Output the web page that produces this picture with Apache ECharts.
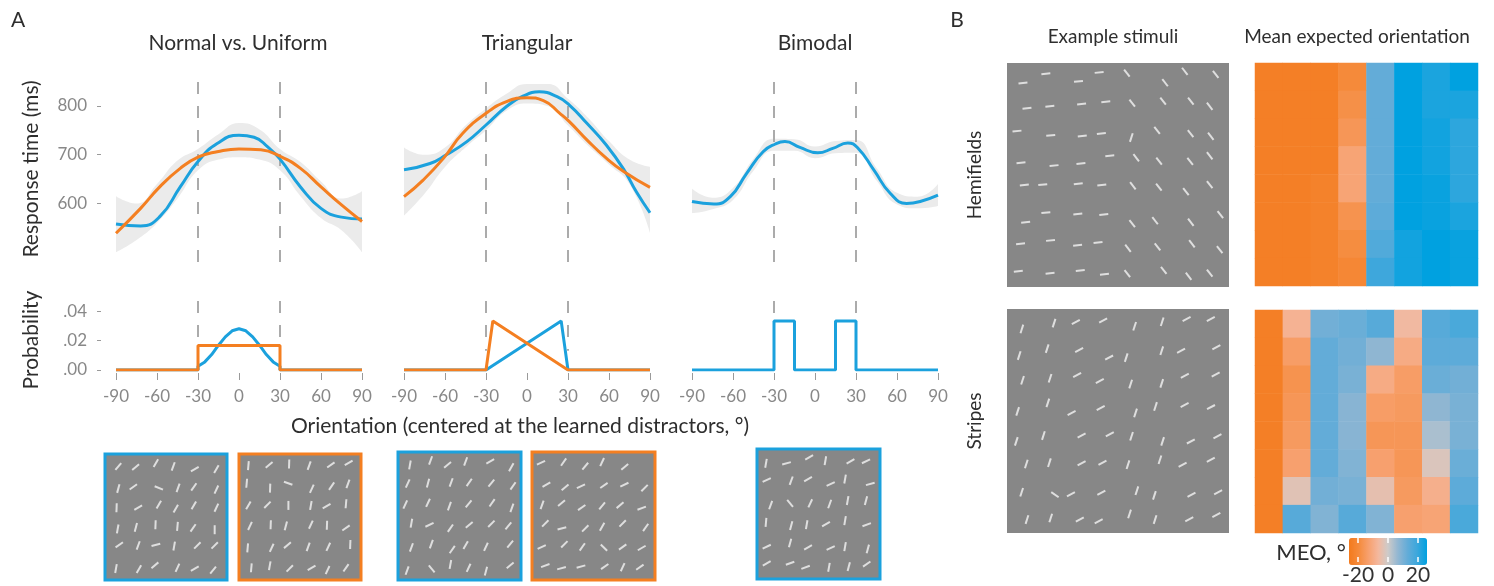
<!DOCTYPE html>
<html>
<head>
<meta charset="utf-8">
<title>Response time and mean expected orientation</title>
<script src="https://cdn.jsdelivr.net/npm/echarts@6.0.0/dist/echarts.min.js"></script>
<style>
  html, body { margin: 0; padding: 0; background: #fff; }
  #view { width: 1494px; height: 586px; }
</style>
</head>
<body>
<div id="view"></div>
<script>
  // ---- A: response time (ms) vs orientation (deg) ----
  var normalBlue = [[-90,558],[-72,554],[-58,573],[-43,634],[-30,686],[-16,723],[0,740],[11,736],[21,716],[30,691],[45,634],[60,590],[75,572],[90,568]];
  var normalOrange = [[-90,539],[-72,590],[-58,634],[-43,672],[-30,695],[-16,706],[0,712],[16,710],[30,697],[45,672],[60,634],[75,597],[90,563]];
  var triBlue = [[-90,669],[-71,682],[-59,700],[-44,727],[-30,761],[-15,799],[-3,820],[9,829],[22,819],[31,802],[44,764],[58,720],[71,669],[80,624],[90,581]];
  var triOrange = [[-90,614],[-76,648],[-61,693],[-47,744],[-30,785],[-15,809],[0,817],[12,811],[24,785],[31,768],[44,730],[58,693],[71,665],[90,633]];
  var bimodalBlue = [[-90,604],[-74,599],[-62,614],[-50,662],[-38,706],[-29,722],[-22,727],[-11,715],[2,704],[13,713],[24,724],[31,715],[43,669],[55,621],[67,600],[77,604],[90,617]];

  // grey confidence band, upper / lower edge at bandX
  var bandX = [-90,-75,-60,-45,-30,-15,0,15,30,45,60,75,90];
  var normalHi = [615,600,640,688,712,742,765,752,712,685,645,610,625];
  var normalLo = [500,525,560,610,668,690,695,690,668,615,570,545,500];
  var triHi = [715,700,715,760,795,825,845,845,815,775,728,690,675];
  var triLo = [575,620,675,715,750,790,805,800,760,718,680,640,540];
  var bimodalHi = [630,612,632,692,733,732,717,728,730,673,622,614,640];
  var bimodalLo = [580,588,607,667,708,708,693,703,704,647,598,590,595];

  // probability of each orientation
  var probNormalBlue = [[-90,0],[-30,0],[-30,0.0025],[-25,0.0055],[-20,0.0105],[-15,0.0168],[-10,0.0225],[-5,0.0266],[0,0.028],[5,0.0266],[10,0.0225],[15,0.0168],[20,0.0105],[25,0.0055],[30,0.0025],[30,0],[90,0]];
  var probNormalOrange = [[-90,0],[-30,0],[-30,0.0167],[30,0.0167],[30,0],[90,0]];
  var probTriBlue = [[-90,0],[-30,0],[25,0.0333],[30,0],[90,0]];
  var probTriOrange = [[-90,0],[-30,0],[-25,0.0333],[30,0],[90,0]];
  var probBimodalBlue = [[-90,0],[-30,0],[-30,0.0333],[-15,0.0333],[-15,0],[15,0],[15,0.0333],[30,0.0333],[30,0],[90,0]];

  var rtTicks = [600, 700, 800];
  var probTicks = [0, 0.02, 0.04];
  var learnedEdges = [-30, 30];

  // ---- example stimuli: [x %, y %, orientation deg] ----
  var stimNormal = [
    [10.9,9.9,50],[25.1,10.4,40],[41.7,7.3,60],[55.9,9.9,70],[73.6,12.0,30],[91.3,12.0,60],
    [10.9,27.4,75],[23.2,26.1,35],[44.1,26.9,-22],[59.9,26.9,70],[72.8,26.1,55],[91.3,28.2,65],
    [9.5,42.6,88],[27.2,42.6,30],[44.1,40.2,60],[58.0,43.3,60],[72.8,40.7,60],[91.3,42.6,65],
    [10.4,59.5,80],[25.3,58.2,75],[41.4,56.1,88],[59.4,57.4,85],[72.2,58.7,55],[89.9,60.1,90],
    [11.7,72.1,35],[27.2,72.6,70],[41.7,72.1,15],[56.7,73.1,80],[75.7,72.6,45],[89.9,72.6,45],
    [9.0,90.9,80],[27.8,91.4,60],[40.9,88.3,40],[59.4,90.3,65],[73.6,90.9,30],[88.6,92.2,50]
  ];
  var stimUniform = [
    [7.7,9.2,85],[24.7,8.7,40],[41.1,7.9,88],[57.5,9.2,70],[75.3,8.7,35],[89.9,7.1,30],
    [6.3,23.2,85],[25.5,27.1,88],[40.3,23.2,-20],[59.7,27.6,65],[75.9,25.5,55],[89.3,23.7,70],
    [7.7,40.8,60],[23.3,40.3,45],[40.5,40.8,90],[58.9,40.8,80],[71.8,41.3,30],[87.7,39.5,85],
    [9.0,57.1,65],[26.0,56.1,88],[38.4,57.1,75],[58.9,56.1,65],[72.1,56.6,88],[87.7,58.7,35],
    [7.1,74.5,85],[26.8,74.5,65],[39.7,72.4,40],[56.7,73.7,70],[73.2,73.7,65],[91.2,71.8,88],
    [10.1,90.3,85],[25.2,88.7,80],[41.6,90.8,45],[59.5,90.3,30],[72.6,92.1,65],[87.7,90.3,55]
  ];
  var stimTriBlue = [
    [9.7,10.1,80],[26.5,6.6,70],[40.3,10.1,40],[55.0,7.4,70],[75.0,7.4,30],[92.1,11.9,60],
    [7.9,24.6,65],[24.4,24.3,75],[43.2,23.8,70],[57.9,23.8,55],[75.9,24.3,50],[93.5,26.5,55],
    [5.9,41.0,65],[24.4,39.7,65],[41.8,42.3,70],[57.4,40.5,50],[76.5,39.7,55],[92.6,43.7,70],
    [10.9,55.6,80],[25.6,56.9,25],[42.6,59.5,55],[57.9,56.9,40],[75.9,56.1,45],[89.7,57.7,50],
    [10.9,74.6,70],[27.1,72.0,70],[44.1,76.2,55],[55.0,72.8,60],[71.5,74.1,65],[91.2,72.0,50],
    [7.4,92.6,70],[27.4,91.3,-50],[42.6,87.8,80],[57.4,90.5,65],[71.5,93.1,75],[91.2,88.6,40]
  ];
  var stimTriOrange = [
    [7.3,8.4,25],[25.7,7.9,55],[43.3,11.1,50],[57.0,7.9,65],[75.4,11.6,40],
    [11.7,25.5,30],[26.9,27.6,40],[39.8,26.8,25],[58.5,26.1,35],[75.1,25.5,25],[91.5,28.2,45],
    [8.2,41.3,70],[24.0,40.0,40],[40.4,43.4,35],[57.0,42.1,50],[71.6,41.6,40],[89.2,43.9,20],
    [10.8,55.8,45],[24.3,59.7,15],[43.3,59.7,45],[57.0,58.4,60],[73.7,55.8,45],[92.4,58.9,55],
    [7.9,74.2,25],[26.3,72.1,45],[40.9,74.2,55],[58.5,74.7,-45],[73.7,74.2,35],[89.2,75.0,30],
    [10.8,88.7,20],[24.0,90.8,15],[39.8,89.5,15],[59.1,89.5,35],[73.7,90.0,65],[87.7,90.0,35]
  ];
  var stimBimodal = [
    [7.3,11.0,80],[24.0,11.0,15],[42.4,6.4,30],[55.6,9.0,80],[76.0,9.5,30],[88.6,9.5,25],
    [7.9,23.8,25],[27.8,24.4,70],[41.5,23.1,30],[59.9,26.9,25],[71.6,23.1,80],[92.1,26.9,15],
    [11.1,43.1,70],[26.9,41.8,-50],[43.3,41.8,65],[59.1,42.3,70],[73.7,39.7,80],[88.6,39.7,75],
    [7.3,56.4,85],[27.8,59.0,75],[40.4,58.2,80],[56.1,57.7,30],[71.6,55.1,80],[89.2,58.2,20],
    [7.9,75.1,25],[26.9,72.3,75],[41.5,75.6,30],[59.9,76.2,25],[71.6,75.1,80],[90.1,76.9,75],
    [7.9,87.9,30],[26.9,87.9,20],[39.5,91.0,20],[58.5,91.0,80],[74.6,90.5,75],[89.2,88.5,35]
  ];
  var stimHemi = [
    [7.2,8.9,6],[17.5,4.8,6],[32.2,8.2,6],[41.5,4.2,6],[54.0,4.5,-52],[71.2,8.8,-52],[80.1,3.7,-52],[94.0,5.1,-52],
    [9.0,20.2,6],[19.3,19.3,6],[33.6,18.3,6],[44.5,17.3,6],[56.4,17.9,-52],[70.3,17.0,-52],[82.8,17.0,-52],[91.3,19.3,-52],
    [4.5,30.4,6],[19.7,32.3,6],[33.9,32.6,6],[42.5,31.5,6],[56.0,33.3,72],[67.6,30.1,-52],[82.7,31.5,-52],[91.8,32.7,-52],
    [6.3,44.5,6],[21.2,45.8,6],[33.3,44.9,6],[46.3,41.4,6],[58.2,42.3,-52],[68.5,43.8,-52],[82.5,43.9,-52],[91.3,41.4,-52],
    [7.8,54.5,6],[16.1,54.3,6],[32.1,53.9,6],[42.7,54.5,6],[56.7,54.8,-52],[68.4,55.4,-52],[80.6,57.4,-52],[91.3,54.3,-52],
    [8.4,71.1,6],[17.5,66.8,6],[31.9,67.4,6],[43.6,67.6,6],[56.4,71.7,-52],[66.7,70.4,-52],[82.8,71.1,-52],[96.1,67.7,-52],
    [6.1,80.7,6],[19.6,79.2,6],[31.8,81.4,6],[41.0,80.1,6],[54.5,82.7,-52],[67.8,82.1,-52],[83.3,80.7,-52],[95.8,83.3,-52],
    [5.1,93.0,6],[19.4,93.9,6],[33.0,92.6,6],[43.9,94.3,6],[54.2,94.0,-52],[70.6,92.6,-52],[81.8,95.2,-52],[91.3,93.8,-52]
  ];
  var stimStripes = [
    [6.7,8.9,72],[21.2,6.3,72],[31.0,5.8,28],[43.3,5.1,28],[57.5,7.7,72],[69.9,5.7,72],[80.9,4.5,28],[91.8,4.5,28],
    [5.5,20.8,72],[18.1,17.7,72],[32.5,18.3,28],[46.0,21.7,28],[53.7,21.7,72],[69.7,18.6,72],[78.4,18.6,28],[94.3,17.1,28],
    [7.0,31.8,72],[19.4,30.9,72],[31.6,29.5,28],[41.8,32.1,28],[55.7,33.5,72],[69.7,33.2,72],[80.1,29.8,28],[94.0,29.2,28],
    [4.8,45.7,72],[18.4,41.9,72],[29.1,46.4,28],[42.2,44.2,28],[57.9,46.4,72],[66.9,43.5,72],[80.0,42.9,28],[91.9,43.8,28],
    [4.2,59.1,72],[16.4,56.5,72],[33.6,56.5,28],[46.3,55.9,28],[56.1,56.8,72],[70.1,59.1,72],[82.8,59.1,28],[94.8,56.8,28],
    [8.7,69.2,72],[19.1,68.6,72],[33.6,68.9,28],[43.0,68.6,28],[54.5,69.5,72],[68.9,67.3,72],[79.1,69.5,28],[91.8,67.3,28],
    [6.6,81.8,72],[21.6,82.9,-35],[28.8,82.7,28],[42.5,82.0,28],[58.5,81.1,72],[66.4,83.2,72],[83.1,82.9,28],[95.1,81.8,28],
    [9.0,94.0,72],[19.7,93.3,72],[32.8,94.0,28],[41.3,94.8,28],[55.2,91.5,72],[66.7,94.0,72],[82.1,93.9,28],[94.3,92.0,28]
  ];

  // ---- B: mean expected orientation (deg), rows top to bottom ----
  var heatCols = ['1','2','3','4','5','6','7','8'];
  var hemiMEO = [
    [-24,-24,-24,-20,13,26,23,26],
    [-24,-24,-24,-18,13,26,23,23],
    [-24,-24,-24,-16,13,26,24,21],
    [-24,-24,-24,-12,13,26,24,21],
    [-24,-24,-23,-12,13,26,25,21],
    [-24,-24,-23,-17,14,26,25,23],
    [-24,-24,-23,-19,16,24,26,25],
    [-24,-24,-23,-21,19,24,26,25]
  ];
  var stripesMEO = [
    [-24,-8,11,12,15,-6,15,17],
    [-24,-14,13,11,7,-10,14,14],
    [-24,-17,13,10,-10,-14,12,11],
    [-24,-16,13,8,-14,-15,7,10],
    [-24,-15,13,8,-16,-16,4,10],
    [-24,-13,13,9,-13,-16,-2,12],
    [-24,-3,11,10,-4,-15,-9,14],
    [-24,15,9,15,9,-13,-12,17]
  ];
  var meoTicks = [-20, 0, 20];

  var FONT = 'Lato, "Open Sans", sans-serif';
  var BLUE = '#1ba1dd';
  var ORANGE = '#f47f21';
  var DASH = '#ababab';

  var chart = echarts.init(document.getElementById('view'));

  function pairs(xs, ys) {
    return xs.map(function (x, i) { return [x, ys[i]]; });
  }

  var grids = [], xAxes = [], yAxes = [], series = [];

  var panels = [
    { left: 116, hi: normalHi, lo: normalLo,
      lines: [[normalBlue, BLUE], [normalOrange, ORANGE]],
      prob: [[probNormalBlue, BLUE], [probNormalOrange, ORANGE]] },
    { left: 404, hi: triHi, lo: triLo,
      lines: [[triBlue, BLUE], [triOrange, ORANGE]],
      prob: [[probTriBlue, BLUE], [probTriOrange, ORANGE]] },
    { left: 692, hi: bimodalHi, lo: bimodalLo,
      lines: [[bimodalBlue, BLUE]],
      prob: [[probBimodalBlue, BLUE]] }
  ];

  panels.forEach(function (p, i) {
    // response time
    var g = grids.length;
    grids.push({ left: p.left, top: 78, width: 246, height: 184 });
    xAxes.push({ gridIndex: g, type: 'value', min: -90, max: 90, show: false });
    yAxes.push({
      gridIndex: g, type: 'value', min: 480, max: 857.4, show: i === 0, offset: 15,
      axisLine: { show: false, onZero: false },
      axisTick: { customValues: rtTicks, length: 4, lineStyle: { color: '#9a9a9a' } },
      axisLabel: { customValues: rtTicks, margin: 14, color: '#888', fontSize: 17 },
      splitLine: { show: false }
    });
    // band: grey fill down from the upper edge, then white fill down from the lower edge
    series.push({
      type: 'line', xAxisIndex: g, yAxisIndex: g, smooth: true,
      symbol: 'none', silent: true, z: 1, lineStyle: { width: 0, opacity: 0 },
      areaStyle: { color: '#ebebeb', opacity: 1, origin: 'start' },
      data: pairs(bandX, p.hi),
      markLine: {
        silent: true, z: 2, symbol: ['none', 'none'], label: { show: false },
        lineStyle: { color: DASH, type: [12, 12], width: 2 },
        data: learnedEdges.map(function (e) { return { xAxis: e }; })
      }
    });
    series.push({
      type: 'line', xAxisIndex: g, yAxisIndex: g, smooth: true,
      symbol: 'none', silent: true, z: 1, lineStyle: { width: 0, opacity: 0 },
      areaStyle: { color: '#ffffff', opacity: 1, origin: 'start' },
      data: pairs(bandX, p.lo)
    });
    p.lines.forEach(function (l) {
      series.push({
        type: 'line', xAxisIndex: g, yAxisIndex: g, smooth: 0.5, symbol: 'none', z: 3,
        lineStyle: { color: l[1], width: 3 }, data: l[0]
      });
    });

    // probability
    var h = grids.length;
    grids.push({ left: p.left, top: 301, width: 246, height: 69 });
    xAxes.push({
      gridIndex: h, type: 'value', min: -90, max: 90, interval: 30, offset: 3,
      axisLine: { show: false, onZero: false },
      axisTick: { length: 7, lineStyle: { color: '#9a9a9a' } },
      axisLabel: { margin: 15, color: '#888', fontSize: 17 },
      splitLine: { show: false }
    });
    yAxes.push({
      gridIndex: h, type: 'value', min: 0, max: 0.0468, show: i === 0, offset: 15,
      axisLine: { show: false, onZero: false },
      axisTick: { customValues: probTicks, length: 4, lineStyle: { color: '#9a9a9a' } },
      axisLabel: {
        customValues: probTicks, margin: 14, color: '#888', fontSize: 17,
        formatter: function (v) { return v.toFixed(2).replace(/^0/, ''); }
      },
      splitLine: { show: false }
    });
    p.prob.forEach(function (l, k) {
      var s = {
        type: 'line', xAxisIndex: h, yAxisIndex: h, symbol: 'none', z: 3,
        lineStyle: { color: l[1], width: 3 }, data: l[0]
      };
      if (k === 0) {
        s.markLine = {
          silent: true, z: 1, symbol: ['none', 'none'], label: { show: false },
          lineStyle: { color: DASH, type: [12, 12], width: 2 },
          data: learnedEdges.map(function (e) {
            return [{ coord: [e, 0.0468] }, { coord: [e, 0.013] }];
          })
        };
      }
      series.push(s);
    });
  });

  // example stimuli
  var stimBoxes = [
    { left: 105, top: 454, width: 122, height: 126, border: BLUE, data: stimNormal },
    { left: 239, top: 454, width: 122, height: 126, border: ORANGE, data: stimUniform },
    { left: 398, top: 452, width: 123, height: 128, border: BLUE, data: stimTriBlue },
    { left: 532, top: 452, width: 123, height: 128, border: ORANGE, data: stimTriOrange },
    { left: 757, top: 449, width: 123, height: 130, border: BLUE, data: stimBimodal },
    { left: 1007, top: 63, width: 222, height: 224, border: null, data: stimHemi },
    { left: 1007, top: 309, width: 222, height: 224, border: null, data: stimStripes }
  ];
  stimBoxes.forEach(function (b) {
    var g = grids.length;
    grids.push({
      left: b.left, top: b.top, width: b.width, height: b.height, show: true,
      backgroundColor: '#878787', borderColor: b.border || '#878787', borderWidth: b.border ? 3 : 0
    });
    xAxes.push({ gridIndex: g, type: 'value', min: 0, max: 100, show: false });
    yAxes.push({ gridIndex: g, type: 'value', min: 0, max: 100, inverse: true, show: false });
    series.push({
      type: 'scatter', xAxisIndex: g, yAxisIndex: g, symbol: 'rect', symbolSize: [9, 2],
      silent: true, itemStyle: { color: '#f4f4f4' },
      data: b.data.map(function (d) { return { value: [d[0], d[1]], symbolRotate: d[2] }; })
    });
  });

  // heatmaps
  var heatIdx = [];
  [[hemiMEO, 63], [stripesMEO, 310]].forEach(function (hm) {
    var g = grids.length;
    grids.push({ left: 1255, top: hm[1], width: 223, height: 223 });
    xAxes.push({ gridIndex: g, type: 'category', data: heatCols, show: false });
    yAxes.push({ gridIndex: g, type: 'category', data: heatCols, inverse: true, show: false });
    var cells = [];
    hm[0].forEach(function (row, r) {
      row.forEach(function (v, c) { cells.push([c, r, v]); });
    });
    heatIdx.push(series.length);
    series.push({
      type: 'heatmap', xAxisIndex: g, yAxisIndex: g, silent: true,
      itemStyle: { borderWidth: 0 }, emphasis: { disabled: true }, data: cells
    });
  });

  // colour bar scale
  var cb = grids.length;
  grids.push({ left: 1349, top: 538, width: 78, height: 27 });
  xAxes.push({
    gridIndex: cb, type: 'value', min: -26, max: 26, z: 10,
    axisLine: { show: false, onZero: false },
    axisTick: { customValues: meoTicks, inside: true, length: 5, lineStyle: { color: '#fff', width: 1.5 } },
    axisLabel: { customValues: meoTicks, margin: 3, color: '#333', fontSize: 21 },
    splitLine: { show: false }
  });
  xAxes.push({
    gridIndex: cb, type: 'value', min: -26, max: 26, position: 'top', z: 10,
    axisLine: { show: false, onZero: false },
    axisTick: { customValues: meoTicks, inside: true, length: 5, lineStyle: { color: '#fff', width: 1.5 } },
    axisLabel: { show: false },
    splitLine: { show: false }
  });
  yAxes.push({ gridIndex: cb, type: 'value', show: false });

  function label(text, x, y, size, rotate) {
    return {
      type: 'text', x: x, y: y, rotation: rotate ? Math.PI / 2 : 0, silent: true,
      style: {
        text: text, fill: '#2e2e2e', font: size + 'px ' + FONT,
        align: 'center', verticalAlign: 'middle',
        textAlign: 'center', textVerticalAlign: 'middle'
      }
    };
  }

  var option = {
    animation: false,
    backgroundColor: '#fff',
    textStyle: { fontFamily: FONT },
    grid: grids,
    xAxis: xAxes,
    yAxis: yAxes,
    visualMap: {
      type: 'continuous', min: -26, max: 26, dimension: 2, seriesIndex: heatIdx,
      orient: 'horizontal', left: 1349, top: 538, itemWidth: 27, itemHeight: 78,
      calculable: false, hoverLink: false, padding: 0, z: 4,
      inRange: { color: ['#f47a1c', '#f58b3c', '#f7a06e', '#f4b89e', '#cecbc9', '#93b7d2', '#63acd8', '#3ba7dc', '#00a1e0'] }
    },
    graphic: [
      label('A', 18, 20, 21),
      label('B', 957, 20, 21),
      label('Normal vs. Uniform', 238, 43, 21),
      label('Triangular', 527, 43, 21),
      label('Bimodal', 815, 43, 21),
      label('Response time (ms)', 31, 169, 21, true),
      label('Probability', 31, 340, 21, true),
      label('Orientation (centered at the learned distractors, \u00b0)', 520, 426, 21),
      label('Example stimuli', 1113, 37, 19),
      label('Mean expected orientation', 1357, 37, 19),
      label('Hemifields', 975, 175, 19, true),
      label('Stripes', 975, 421, 19, true),
      label('MEO, \u00b0', 1311, 553, 22)
    ],
    series: series
  };

  chart.setOption(option);
</script>
</body>
</html>
